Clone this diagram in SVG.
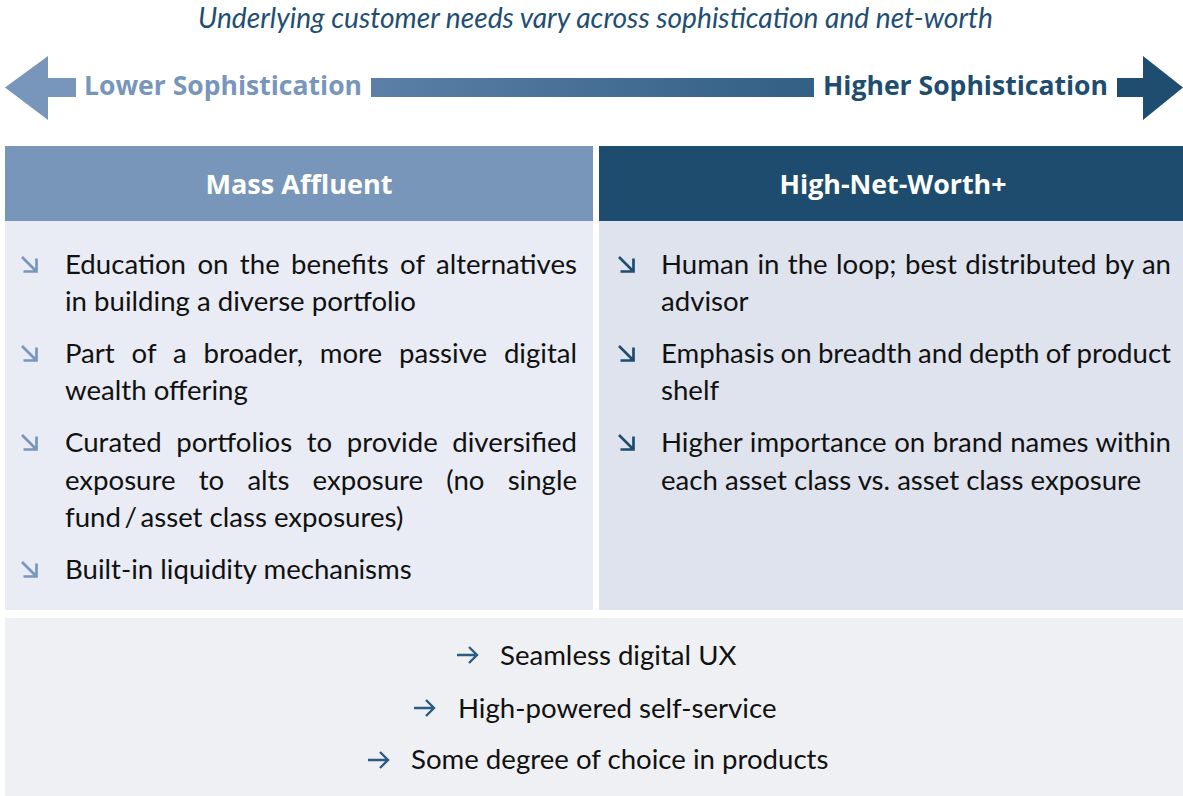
<svg xmlns="http://www.w3.org/2000/svg" width="1183" height="796" viewBox="0 0 1183 796">
<defs>
<linearGradient id="barGrad" x1="0" y1="0" x2="1" y2="0">
<stop offset="0" stop-color="#5b7fa6"/>
<stop offset="1" stop-color="#325f84"/>
</linearGradient>
<path id="bul" d="M0,0 L13.5,13.5 M1.5,14.5 L14.5,14.5 L14.5,1.5" fill="none" stroke-width="2.7" stroke-linecap="butt"/>
<path id="rar" d="M0,8 L20,8 M12,0 L20,8 L12,16" fill="none" stroke="#2b5b82" stroke-width="2.4"/>
</defs>
<style>
.title{font-family:Lato,"Liberation Sans",sans-serif;font-style:italic;font-size:28px;fill:#1f4e73}
.axis{font-family:"Open Sans","Liberation Sans",sans-serif;font-weight:700;font-size:27px}
.hdr{font-family:"Open Sans","Liberation Sans",sans-serif;font-weight:700;font-size:27px;fill:#ffffff;text-anchor:middle}
.body{font-family:Lato,"Liberation Sans",sans-serif;font-size:27.6px;fill:#111111}
</style>
<rect width="1183" height="796" fill="#ffffff"/>
<text class="title" x="595.5" y="28" text-anchor="middle" textLength="795" lengthAdjust="spacingAndGlyphs">Underlying customer needs vary across sophistication and net-worth</text>
<g id="axis">
<polygon points="5,87.5 48,56 48,78 76,78 76,97 48,97 48,120" fill="#7896bb"/>
<rect x="371" y="78" width="443" height="19" fill="url(#barGrad)"/>
<polygon points="1117,78 1143,78 1143,56 1183,87.5 1143,120 1143,97 1117,97" fill="#1e4d70"/>
<text class="axis" x="84" y="95" fill="#7896bb" textLength="278" lengthAdjust="spacingAndGlyphs">Lower Sophistication</text>
<text class="axis" x="823" y="95" fill="#1e4d70" textLength="285" lengthAdjust="spacingAndGlyphs">Higher Sophistication</text>
</g>
<g id="mass-affluent">
<rect x="5" y="146" width="588" height="75" fill="#7896b9"/>
<rect x="5" y="221" width="588" height="389" fill="#e9ecf4"/>
<text class="hdr" x="299" y="194" textLength="187" lengthAdjust="spacingAndGlyphs">Mass Affluent</text>
<g stroke="#7896bb">
<use href="#bul" x="22" y="257"/>
<use href="#bul" x="22" y="346"/>
<use href="#bul" x="22" y="435"/>
<use href="#bul" x="22" y="562"/>
</g>
<text class="body" x="65" y="274" word-spacing="4.3" textLength="512" lengthAdjust="spacing">Education on the benefits of alternatives</text>
<text class="body" x="65" y="311">in building a diverse portfolio</text>
<text class="body" x="65" y="363" word-spacing="9.8" textLength="512" lengthAdjust="spacing">Part of a broader, more passive digital</text>
<text class="body" x="65" y="400">wealth offering</text>
<text class="body" x="65" y="452" word-spacing="7.5" textLength="512" lengthAdjust="spacing">Curated portfolios to provide diversified</text>
<text class="body" x="65" y="490" word-spacing="16.2" textLength="512" lengthAdjust="spacing">exposure to alts exposure (no single</text>
<text class="body" x="65" y="527"><tspan word-spacing="-3.5">fund / </tspan>asset class exposures)</text>
<text class="body" x="65" y="579">Built-in liquidity mechanisms</text>
</g>
<g id="high-net-worth">
<rect x="599" y="146" width="584" height="75" fill="#1d4c6f"/>
<rect x="599" y="221" width="584" height="389" fill="#dfe3ee"/>
<text class="hdr" x="893" y="194" textLength="227" lengthAdjust="spacingAndGlyphs">High-Net-Worth+</text>
<g stroke="#1e4d70">
<use href="#bul" x="619" y="257"/>
<use href="#bul" x="619" y="346"/>
<use href="#bul" x="619" y="435"/>
</g>
<text class="body" x="661" y="274" word-spacing="1.3" textLength="510" lengthAdjust="spacing">Human in the loop; best distributed by an</text>
<text class="body" x="661" y="311">advisor</text>
<text class="body" x="661" y="363" word-spacing="-0.8" textLength="510" lengthAdjust="spacing">Emphasis on breadth and depth of product</text>
<text class="body" x="661" y="400">shelf</text>
<text class="body" x="661" y="452" word-spacing="0.5" textLength="510" lengthAdjust="spacing">Higher importance on brand names within</text>
<text class="body" x="661" y="490">each asset class vs. asset class exposure</text>
</g>
<g id="common">
<rect x="5" y="618" width="1178" height="178" fill="#eff0f3"/>
<use href="#rar" x="457" y="647"/>
<use href="#rar" x="414" y="700"/>
<use href="#rar" x="368" y="752"/>
<text class="body" x="500" y="665">Seamless digital UX</text>
<text class="body" x="458" y="718">High-powered self-service</text>
<text class="body" x="411" y="769">Some degree of choice in products</text>
</g>
</svg>
